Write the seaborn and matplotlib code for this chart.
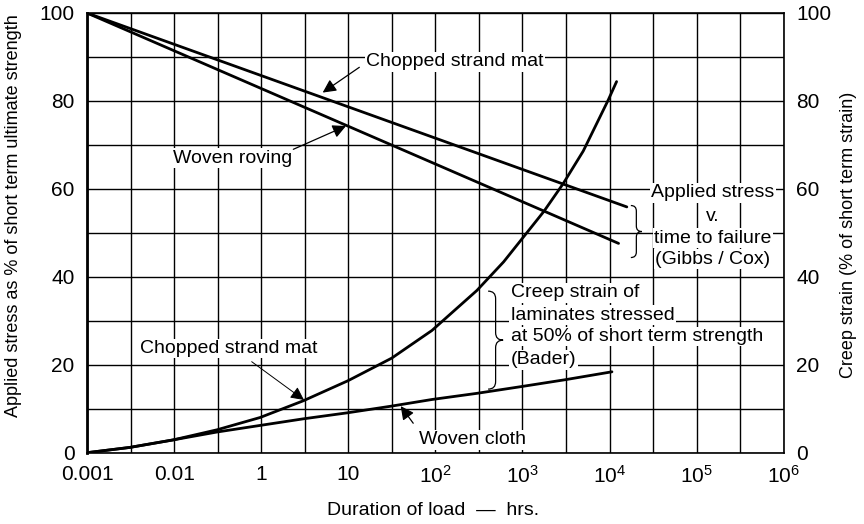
import numpy as np
import matplotlib
matplotlib.use("Agg")
import matplotlib.pyplot as plt
import matplotlib.transforms as mtransforms
from matplotlib.path import Path
from matplotlib.patches import PathPatch
from matplotlib.ticker import FixedLocator, FixedFormatter, NullFormatter
import seaborn as sns

# ---- data (hours, %) ----
csm_stress_hrs = [0.01, 1.58e4]
csm_stress = [100, 55.9]
wr_stress_hrs = [0.01, 1.27e4]
wr_stress = [100, 47.6]

csm_creep_hrs = [0.01, 0.031, 0.097, 0.31, 0.97, 3.04, 10, 31.5, 91.4, 300, 608,
                 1766, 2938, 4990, 9660, 12050]
csm_creep = [0, 1.2, 2.9, 5.2, 8.0, 11.8, 16.4, 21.5, 27.8, 36.9, 43.4,
             54.9, 61.2, 68.6, 80.2, 84.4]

wc_creep_hrs = [0.01, 0.031, 0.097, 0.31, 0.97, 3.04, 10, 31.5, 91.4, 300, 944,
                3100, 10660]
wc_creep = [0, 1.2, 2.9, 4.7, 6.2, 7.7, 9.1, 10.6, 12.1, 13.5, 15.0, 16.6, 18.4]

x_tick_pos = [1e-2, 1e-1, 1e0, 1e1, 1e2, 1e3, 1e4, 1e5, 1e6]
x_tick_labels = ["0.001", "0.01", "1", "10",
                 r"$\mathregular{10^2}$", r"$\mathregular{10^3}$", r"$\mathregular{10^4}$",
                 r"$\mathregular{10^5}$", r"$\mathregular{10^6}$"]
y_ticks = [0, 20, 40, 60, 80, 100]

sns.set_theme(style="white")
plt.rcParams["font.family"] = ["Liberation Sans", "DejaVu Sans"]
plt.rcParams["mathtext.fontset"] = "custom"
plt.rcParams["mathtext.rm"] = "Liberation Sans"

fig = plt.figure(figsize=(8.64, 5.24), dpi=100)
ax = fig.add_axes([87 / 864, 1 - 452.7 / 524, 696.7 / 864, 439.7 / 524])

for xs, ys in [(csm_stress_hrs, csm_stress), (wr_stress_hrs, wr_stress),
               (csm_creep_hrs, csm_creep), (wc_creep_hrs, wc_creep)]:
    sns.lineplot(x=xs, y=ys, ax=ax, color="black", lw=2, zorder=3)

ax.set_xscale("log")
ax.set_xlim(1e-2, 1e6)
ax.set_ylim(0, 100)

ax.xaxis.set_major_locator(FixedLocator(x_tick_pos))
ax.xaxis.set_major_formatter(FixedFormatter(x_tick_labels))
ax.xaxis.set_minor_locator(FixedLocator([10 ** (k + 0.5) for k in range(-2, 6)]))
ax.xaxis.set_minor_formatter(NullFormatter())
ax.set_yticks(y_ticks)
ax.set_yticks([10, 30, 50, 70, 90], minor=True)

ax.grid(True, which="both", color="black", lw=1.0)
ax.tick_params(which="both", length=0, labelsize=15, colors="black", pad=9)
for side, sp in ax.spines.items():
    sp.set_color("black")
    sp.set_linewidth(1.2)
ax.spines["left"].set_linewidth(2)

ax.set_xlabel("Duration of load  —  hrs.", fontsize=14, color="black")
ax.xaxis.set_label_coords(0.497, -0.112)
ax.set_ylabel("Applied stress as % of short term ultimate strength", fontsize=13, color="black")
ax.yaxis.set_label_coords(-0.093, 0.54)

ax2 = ax.twinx()
ax2.set_ylim(0, 100)
ax2.set_yticks(y_ticks)
ax2.tick_params(length=0, labelsize=15, colors="black", pad=9)
for sp in ax2.spines.values():
    sp.set_visible(False)
ax2.set_ylabel("Creep strain (% of short term strain)", fontsize=13, color="black")
ax2.yaxis.set_label_coords(1.081, 0.495)

# ---- annotations ----
arrow = dict(arrowstyle="-|>", color="black", lw=0.9, mutation_scale=20,
             shrinkA=0, shrinkB=0)
box = dict(facecolor="white", edgecolor="none", pad=1)
txt = dict(fontsize=14, color="black", va="center", ha="left", zorder=5, bbox=box)

ax.text(16.0, 88.9, "Chopped strand mat", **txt)
ax.annotate("", xy=(5.08, 81.9), xytext=(13.4, 87.65), arrowprops=arrow, zorder=5)
ax.text(0.097, 67.0, "Woven roving", **txt)
ax.annotate("", xy=(9.42, 74.3), xytext=(2.34, 69.0), arrowprops=arrow, zorder=5)
ax.text(0.0406, 23.7, "Chopped strand mat", **txt)
ax.annotate("", xy=(3.10, 12.0), xytext=(0.778, 20.7),
            arrowprops=dict(arrow, lw=0.7), zorder=5)
ax.text(64.8, 2.9, "Woven cloth", **txt)
ax.annotate("", xy=(40.0, 10.6), xytext=(55.7, 6.7), arrowprops=arrow, zorder=5)

for y, s in zip([59.1, 53.7, 48.8, 44.0],
                ["Applied stress", "v.", "time to failure", "(Gibbs / Cox)"]):
    ax.text(1.54e5, y, s, **dict(txt, ha="center"))

for y, s in zip([36.4, 31.3, 26.4, 21.1],
                ["Creep strain of", "laminates stressed",
                 "at 50% of short term strength", "(Bader)"]):
    ax.text(733, y, s, **txt)


def brace(xc, yc, w, h):
    # right-pointing curly brace, w/h in pixels, tip at (xc, yc)
    pts = [(-w, h), (-w / 2, h), (-w / 2, h - w / 2),
           (-w / 2, w / 2), (-w / 2, 0), (0, 0),
           (-w / 2, 0), (-w / 2, -w / 2),
           (-w / 2, -h + w / 2), (-w / 2, -h), (-w, -h)]
    codes = [Path.MOVETO, Path.CURVE3, Path.CURVE3,
             Path.LINETO, Path.CURVE3, Path.CURVE3,
             Path.CURVE3, Path.CURVE3,
             Path.LINETO, Path.CURVE3, Path.CURVE3]
    tr = mtransforms.Affine2D() + mtransforms.ScaledTranslation(xc, yc, ax.transData)
    ax.add_patch(PathPatch(Path(pts, codes), fill=False, lw=0.9,
                           edgecolor="black", transform=tr, zorder=5))


brace(2.35e4, 50.3, 11, 26)
brace(600, 25.6, 15, 49)

fig.savefig("out.png", dpi=100)
